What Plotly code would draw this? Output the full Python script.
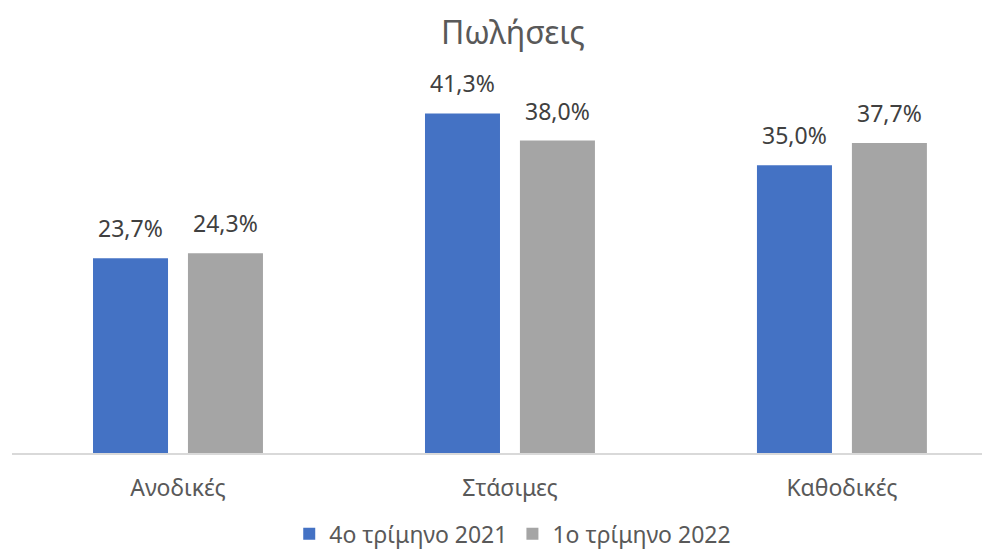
import plotly.graph_objects as go

categories = ["Ανοδικές", "Στάσιμες", "Καθοδικές"]
series_names = ["4ο τρίμηνο 2021", "1ο τρίμηνο 2022"]
q4_2021 = [23.7, 41.3, 35.0]
q1_2022 = [24.3, 38.0, 37.7]
colors = ["#4472C4", "#A5A5A5"]

FONT = "Noto Sans, Open Sans, sans-serif"

def fmt(v):
    return f"{v:.1f}".replace(".", ",") + "%"

fig = go.Figure()
for name, vals, col in zip(series_names, [q4_2021, q1_2022], colors):
    fig.add_trace(go.Bar(x=categories, y=vals, name=name, marker=dict(color=col, line=dict(width=0)),
                         hoverinfo="skip"))

annotations = []
for vals, shift in zip([q4_2021, q1_2022], [-47.5, 47.5]):
    for c, v in zip(categories, vals):
        annotations.append(dict(x=c, y=v, text=fmt(v), showarrow=False, xshift=shift, yshift=12,
                                yanchor="bottom", font=dict(size=23, color="#404040", family=FONT)))

fig.update_layout(
    width=990, height=556,
    margin=dict(l=4, r=8, t=75, b=111),
    paper_bgcolor="white", plot_bgcolor="white",
    title=dict(text="Πωλήσεις", x=0.51, xanchor="center", y=0.956, yanchor="middle",
               font=dict(size=32, color="#595959", family=FONT)),
    barmode="group", bargap=0.428, bargroupgap=0.21,
    xaxis=dict(range=[-0.5, 2.446], showline=True, linecolor="#D9D9D9", linewidth=1.5,
               ticks="", tickfont=dict(size=23, color="#595959", family=FONT), ticklabelstandoff=14,
               showgrid=False, fixedrange=True),
    yaxis=dict(range=[0, 45], visible=False, showgrid=False, zeroline=False),
    legend=dict(orientation="h", x=0.512, xanchor="center", y=-0.16, yanchor="top",
                font=dict(size=23, color="#595959", family=FONT), itemwidth=30,
                traceorder="normal"),
    annotations=annotations,
    showlegend=True,
)

fig.write_html("out.html")
